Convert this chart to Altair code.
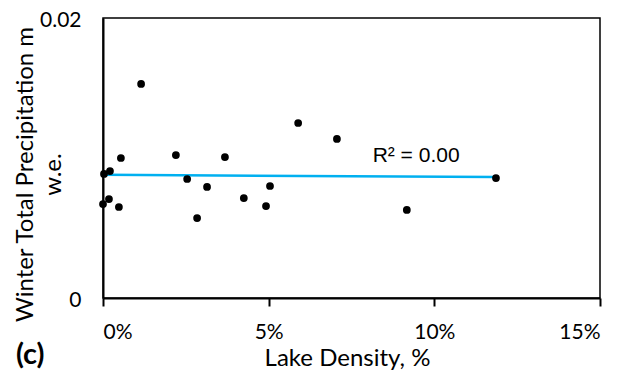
import altair as alt
import pandas as pd

# Lake density (%) and winter total precipitation (m w.e.)
lake_density = [0.0, 0.18, 0.03, 0.21, 0.48, 0.54, 1.15, 2.2, 2.54, 2.84, 3.14,
                3.68, 4.25, 4.92, 5.04, 5.89, 7.06, 9.17, 11.86]
precip = [0.00671, 0.00707, 0.00886, 0.00907, 0.0065, 0.0100, 0.01529, 0.01021,
          0.0085, 0.00571, 0.00793, 0.01007, 0.00714, 0.00657, 0.0080, 0.0125,
          0.01136, 0.00629, 0.00857]
x_ticks = [0, 5, 10, 15]
y_ticks = [0, 0.02]
r2_label = ["R² = 0.00"]
panel_label = ["(c)"]

df = pd.DataFrame({"x": lake_density, "y": precip})

xs = alt.Scale(domain=[0, 15], nice=False)
ys = alt.Scale(domain=[0, 0.02], nice=False)

x_axis = alt.Axis(values=x_ticks, labelExpr="datum.value + '%'", grid=False,
                  title="Lake Density, %", titleFont="Lato", labelFont="Lato",
                  titleFontSize=24, labelFontSize=21, titleFontWeight="normal",
                  labelColor="black", titleColor="black", domainColor="black",
                  domainWidth=2, tickColor="black", tickWidth=2, tickSize=8,
                  labelPadding=15, titleX=244, titleY=67, titleAlign="center",
                  titleBaseline="alphabetic")
y_axis = alt.Axis(values=y_ticks, labelExpr="datum.value == 0 ? '0' : '0.02'",
                  grid=False, ticks=False,
                  title=["Winter Total Precipitation  m", "w.e."],
                  titleFont="Lato", labelFont="Lato", titleFontSize=24,
                  labelFontSize=21, titleFontWeight="normal", titleLineHeight=28,
                  labelColor="black", titleColor="black", domainColor="black",
                  domainWidth=2, labelPadding=22, labelOffset=2,
                  titleX=-71, titleY=156,
                  titleAlign="center", titleBaseline="alphabetic", titleAngle=270)

base = alt.Chart(df)

points = base.mark_circle(size=60, color="black", opacity=1).encode(
    x=alt.X("x:Q", scale=xs, axis=x_axis),
    y=alt.Y("y:Q", scale=ys, axis=y_axis),
)

trend = base.transform_regression("x", "y", method="linear").mark_line(
    color="#00B0F0", strokeWidth=2.5).encode(
    x=alt.X("x:Q", scale=xs), y=alt.Y("y:Q", scale=ys))

r2 = alt.Chart(pd.DataFrame({"t": r2_label, "x": [9.45], "y": [0.00971]})).mark_text(
    font="Liberation Sans", fontSize=21, color="black", align="center",
    baseline="alphabetic").encode(x=alt.X("x:Q", scale=xs), y=alt.Y("y:Q", scale=ys), text="t:N")

clabel = alt.Chart(pd.DataFrame({"t": panel_label})).mark_text(
    font="Lato", fontSize=29, fontWeight="bold", color="black", align="left",
    baseline="alphabetic").encode(x=alt.value(-87), y=alt.value(346), text="t:N")

chart = alt.layer(trend, points, r2, clabel).properties(
    width=497, height=280,
    autosize=alt.AutoSizeParams(type="none"),
    padding={"left": 95, "top": 10, "right": 16, "bottom": 72},
).configure_view(stroke="black", strokeWidth=1.5)

chart.save("out.html", embed_options={"renderer": "svg", "actions": False})
